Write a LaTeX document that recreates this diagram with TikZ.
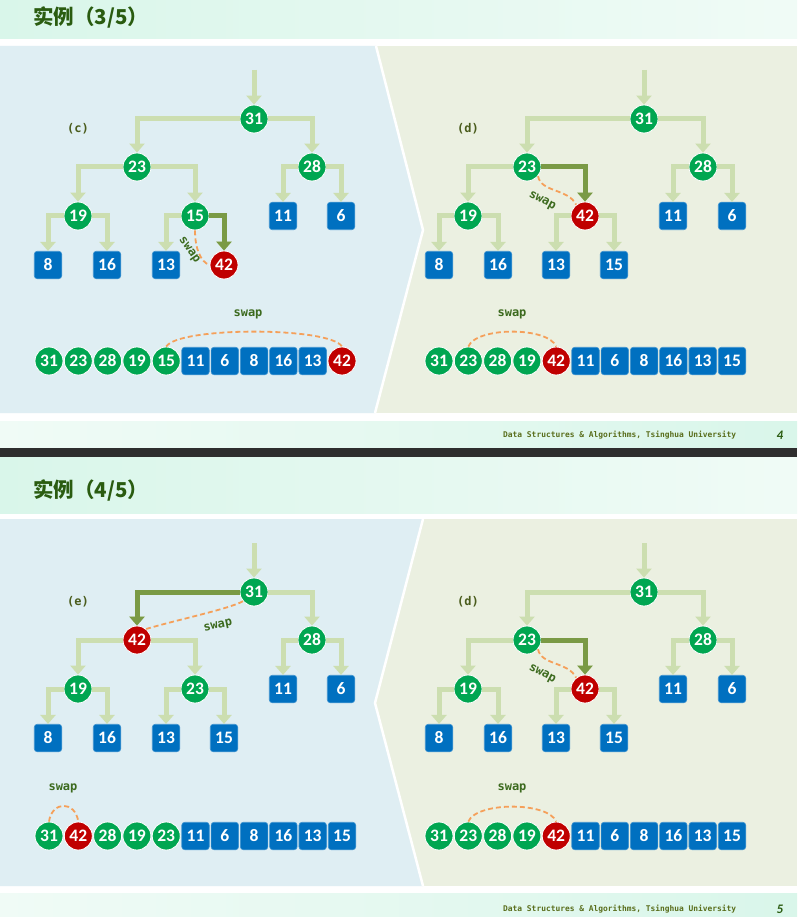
\documentclass[tikz,border=0pt]{standalone}
\usepackage{fontspec}
\usetikzlibrary{arrows.meta}
\newfontfamily\mynum{Carlito}
\newfontfamily\mycjk{Noto Sans CJK SC}
\newfontfamily\dsmono{DejaVu Sans Mono}
\definecolor{grn}{HTML}{00A651}
\definecolor{rd}{HTML}{C00000}
\definecolor{blu}{HTML}{0070C0}
\definecolor{edl}{HTML}{CCDEB0}
\definecolor{edh}{HTML}{7A9A45}
\definecolor{orng}{HTML}{F5A05A}
\definecolor{lbl}{HTML}{3C6A1E}
\definecolor{tagc}{HTML}{4A5C1C}
\definecolor{ttl}{HTML}{2A5C10}
\definecolor{pl}{HTML}{DFEEF3}
\definecolor{pr}{HTML}{EBF0E1}
\definecolor{mint}{HTML}{D9F6EA}
\definecolor{mintl}{HTML}{F0FBF6}
\definecolor{dark}{HTML}{2E2E2E}
\definecolor{foot}{HTML}{5A6E1C}
\newcommand\nf{\mynum\bfseries\fontsize{17.5}{17.5}\selectfont}
\tikzset{
  gn/.style={circle, fill=grn, draw=white, line width=0.8pt, minimum size=28pt, inner sep=0pt, text=white, font=\nf},
  rn/.style={gn, fill=rd},
  bx/.style={rectangle, rounded corners=3pt, fill=blu, draw=blu!75!white, line width=0.6pt, minimum size=27.5pt, inner sep=0pt, text=white, font=\nf},
  ed/.style={line width=5pt, draw=edl, -{Triangle[width=15pt,length=9pt]}},
  hed/.style={ed, draw=edh},
  sw/.style={draw=orng, line width=1.8pt, dash pattern=on 5pt off 3pt},
  swl/.style={font=\dsmono\bfseries\fontsize{12}{12}\selectfont, text=lbl, inner sep=0pt},
  tag/.style={font=\dsmono\bfseries\fontsize{12}{12}\selectfont, text=tagc, inner sep=0pt},
  ttls/.style={font=\mycjk\bfseries\fontsize{20.5}{20.5}\selectfont, text=ttl, anchor=west, inner sep=0pt},
  ftr/.style={font=\dsmono\bfseries\fontsize{7.9}{8}\selectfont, text=foot, anchor=west, inner sep=0pt},
  pgn/.style={font=\mynum\bfseries\itshape\fontsize{13}{13}\selectfont, text=ttl, inner sep=0pt}
}
\newcommand\tedges[1]{%
  \draw[ed] (#1in) -- (#1r);
  \draw[ed] (#1r.west) -| (#1a.north);
  \draw[ed] (#1r.east) -| (#1b.north);
  \draw[ed] (#1a.west) -| (#1c.north);
  \draw[ed] (#1a.east) -| (#1d.north);
  \draw[ed] (#1b.west) -| (#1e.north);
  \draw[ed] (#1b.east) -| (#1f.north);
  \draw[ed] (#1c.west) -| (#1g.north);
  \draw[ed] (#1c.east) -| (#1h.north);
  \draw[ed] (#1d.west) -| (#1i.north);
  \draw[ed] (#1d.east) -| (#1j.north);
}
\begin{document}
\begin{tikzpicture}[x=1pt,y=-1pt]
\useasboundingbox (0,0) rectangle (797,917);
\fill[white] (0,0) rectangle (797,917);
% ---------- slide 1 background
\shade[left color=mint, right color=mintl] (0,0) rectangle (797,39);
\fill[pr] (0,46) rectangle (797,413);
\fill[pl] (0,46) -- (376,46) -- (423,230) -- (375,413) -- (0,413) -- cycle;
\draw[white, line width=2.5pt] (376,46) -- (423,230) -- (375,413);
\shade[left color=mintl, right color=mint] (0,421) rectangle (797,448);
\fill[dark] (0,448) rectangle (797,457);
% ---------- slide 2 background
\shade[left color=mint, right color=mintl] (0,457) rectangle (797,513);
\fill[pr] (0,519) rectangle (797,886);
\fill[pl] (0,519) -- (423,519) -- (375,703) -- (423,886) -- (0,886) -- cycle;
\draw[white, line width=2.5pt] (423,519) -- (375,703) -- (423,886);
\shade[left color=mintl, right color=mint] (0,893) rectangle (797,917);
% ---------- titles and footers
\node[ttls] (t1) at (33,17) {实例（3/5）};
\node[ttls] (t2) at (33,490) {实例（4/5）};
\node[ftr] (f1) at (503,435) {Data Structures \& Algorithms, Tsinghua University};
\node[ftr] (f2) at (503,909) {Data Structures \& Algorithms, Tsinghua University};
\node[pgn] (p1) at (780,435) {4};
\node[pgn] (p2) at (780,909) {5};

% ================= panel (c)
\coordinate (Cin) at (254,70);
\node[gn] (Cr) at (254,119) {31};
\node[gn] (Ca) at (137,167) {23};
\node[gn] (Cb) at (312,167) {28};
\node[gn] (Cc) at (78,216) {19};
\node[gn] (Cd) at (195,216) {15};
\node[bx] (Ce) at (283,216) {11};
\node[bx] (Cf) at (341,216) {6};
\node[bx] (Cg) at (48,265) {8};
\node[bx] (Ch) at (107,265) {16};
\node[bx] (Ci) at (166,265) {13};
\node[rn] (Cj) at (224,265) {42};
\tedges{C}
\draw[hed] (Cd.east) -| (Cj.north);
\draw[sw] (Cd.south) .. controls +(0,18) and +(-9,-3) .. (Cj.west);
\node[swl, rotate=-55] (Cs) at (189,250) {swap};
\node[tag] (Cl) at (78,129) {(c)};

% ================= panel (d) slide 1
\coordinate (Din) at (644,70);
\node[gn] (Dr) at (644,119) {31};
\node[gn] (Da) at (527,167) {23};
\node[gn] (Db) at (703,167) {28};
\node[gn] (Dc) at (468,216) {19};
\node[rn] (Dd) at (585,216) {42};
\node[bx] (De) at (673,216) {11};
\node[bx] (Df) at (732,216) {6};
\node[bx] (Dg) at (439,265) {8};
\node[bx] (Dh) at (498,265) {16};
\node[bx] (Di) at (556,265) {13};
\node[bx] (Dj) at (614,265) {15};
\tedges{D}
\draw[hed] (Da.east) -| (Dd.north);
\draw[sw] (Da.-40) .. controls +(3,16) and +(-8,-16) .. (Dd.128);
\node[swl, rotate=-28] (Ds) at (542,201) {swap};
\node[tag] (Dl) at (468,129) {(d)};

% ================= panel (e)
\coordinate (Ein) at (254,543);
\node[gn] (Er) at (254,592) {31};
\node[rn] (Ea) at (137,640) {42};
\node[gn] (Eb) at (312,640) {28};
\node[gn] (Ec) at (78,689) {19};
\node[gn] (Ed) at (195,689) {23};
\node[bx] (Ee) at (283,689) {11};
\node[bx] (Ef) at (341,689) {6};
\node[bx] (Eg) at (48,738) {8};
\node[bx] (Eh) at (107,738) {16};
\node[bx] (Ei) at (166,738) {13};
\node[bx] (Ej) at (224,738) {15};
\tedges{E}
\draw[hed] (Er.west) -| (Ea.north);
\draw[sw] (Er.220) .. controls +(-15,8) and +(30,-9) .. (Ea.50);
\node[swl, rotate=12] (Es) at (218,626) {swap};
\node[tag] (El) at (78,602) {(e)};

% ================= panel (d) slide 2
\coordinate (Fin) at (644,543);
\node[gn] (Fr) at (644,592) {31};
\node[gn] (Fa) at (527,640) {23};
\node[gn] (Fb) at (703,640) {28};
\node[gn] (Fc) at (468,689) {19};
\node[rn] (Fd) at (585,689) {42};
\node[bx] (Fe) at (673,689) {11};
\node[bx] (Ff) at (732,689) {6};
\node[bx] (Fg) at (439,738) {8};
\node[bx] (Fh) at (498,738) {16};
\node[bx] (Fi) at (556,738) {13};
\node[bx] (Fj) at (614,738) {15};
\tedges{F}
\draw[hed] (Fa.east) -| (Fd.north);
\draw[sw] (Fa.-40) .. controls +(3,16) and +(-8,-16) .. (Fd.128);
\node[swl, rotate=-28] (Fs) at (542,674) {swap};
\node[tag] (Fl) at (468,602) {(d)};

% ================= arrays
% slide 1 left
\node[gn] (a1) at (49,361) {31};
\node[gn] (a2) at (78.3,361) {23};
\node[gn] (a3) at (107.6,361) {28};
\node[gn] (a4) at (136.9,361) {19};
\node[gn] (a5) at (166.2,361) {15};
\node[bx] (a6) at (195.5,361) {11};
\node[bx] (a7) at (224.8,361) {6};
\node[bx] (a8) at (254.1,361) {8};
\node[bx] (a9) at (283.4,361) {16};
\node[bx] (a10) at (312.7,361) {13};
\node[rn] (a11) at (342,361) {42};
\draw[sw] (a5.north) .. controls +(12,-20) and +(-12,-20) .. (a11.north);
\node[swl] (as) at (248,314) {swap};
% slide 1 right
\node[gn] (b1) at (439,361) {31};
\node[gn] (b2) at (468.3,361) {23};
\node[gn] (b3) at (497.6,361) {28};
\node[gn] (b4) at (526.9,361) {19};
\node[rn] (b5) at (556.2,361) {42};
\node[bx] (b6) at (585.5,361) {11};
\node[bx] (b7) at (614.8,361) {6};
\node[bx] (b8) at (644.1,361) {8};
\node[bx] (b9) at (673.4,361) {16};
\node[bx] (b10) at (702.7,361) {13};
\node[bx] (b11) at (732,361) {15};
\draw[sw] (b2.north) .. controls +(8,-20) and +(-8,-20) .. (b5.north);
\node[swl] (bs) at (512,314) {swap};
% slide 2 left
\node[gn] (c1) at (49,836) {31};
\node[rn] (c2) at (78.3,836) {42};
\node[gn] (c3) at (107.6,836) {28};
\node[gn] (c4) at (136.9,836) {19};
\node[gn] (c5) at (166.2,836) {23};
\node[bx] (c6) at (195.5,836) {11};
\node[bx] (c7) at (224.8,836) {6};
\node[bx] (c8) at (254.1,836) {8};
\node[bx] (c9) at (283.4,836) {16};
\node[bx] (c10) at (312.7,836) {13};
\node[bx] (c11) at (342,836) {15};
\draw[sw] (c1.north) .. controls +(3,-21) and +(-3,-21) .. (c2.north);
\node[swl] (cs) at (63,788) {swap};
% slide 2 right
\node[gn] (d1) at (439,836) {31};
\node[gn] (d2) at (468.3,836) {23};
\node[gn] (d3) at (497.6,836) {28};
\node[gn] (d4) at (526.9,836) {19};
\node[rn] (d5) at (556.2,836) {42};
\node[bx] (d6) at (585.5,836) {11};
\node[bx] (d7) at (614.8,836) {6};
\node[bx] (d8) at (644.1,836) {8};
\node[bx] (d9) at (673.4,836) {16};
\node[bx] (d10) at (702.7,836) {13};
\node[bx] (d11) at (732,836) {15};
\draw[sw] (d2.north) .. controls +(8,-20) and +(-8,-20) .. (d5.north);
\node[swl] (ds) at (512,788) {swap};
\end{tikzpicture}
\end{document}
